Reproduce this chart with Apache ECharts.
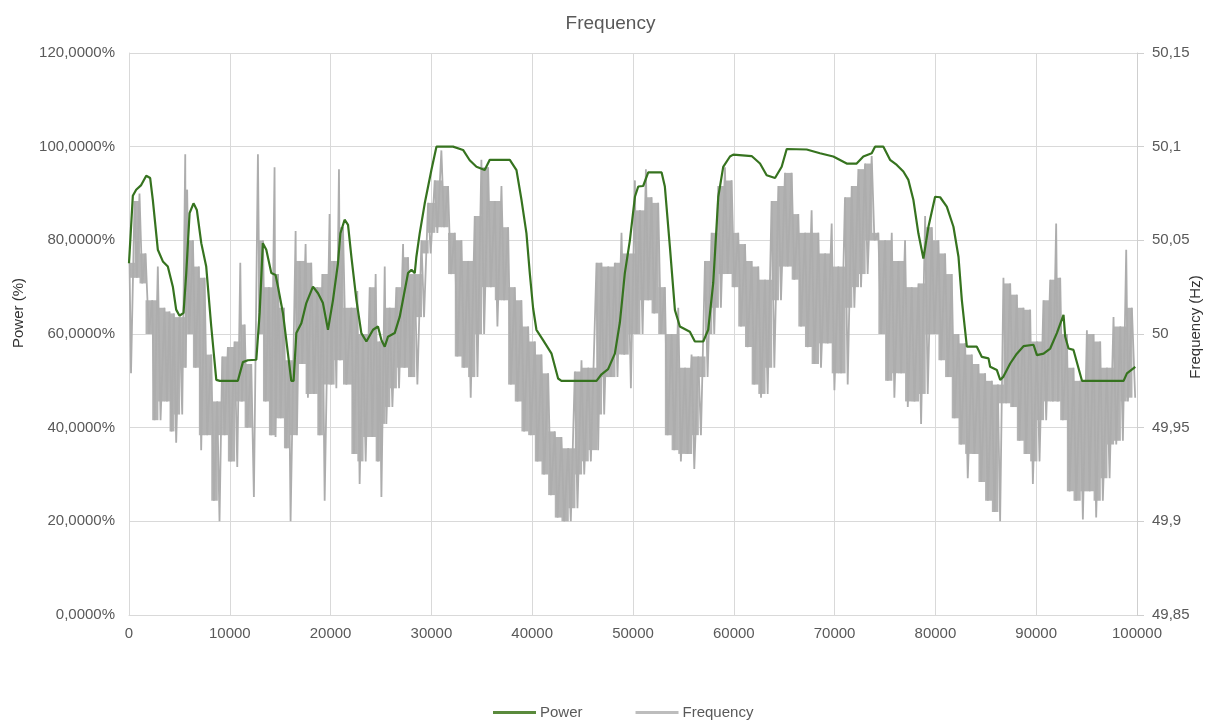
<!DOCTYPE html>
<html>
<head>
<meta charset="utf-8">
<title>Frequency</title>
<script src="https://cdn.jsdelivr.net/npm/echarts@6/dist/echarts.min.js"></script>
<style>
  html, body { margin: 0; padding: 0; background: #ffffff; }
  #chart { width: 1221px; height: 725px; }
</style>
</head>
<body>
<div id="chart"></div>
<script>
// Sample position (s) for the power trace and its level in percent
const powerX = [0, 380, 710, 1210, 1710, 2100, 2360, 2860, 3360, 3850, 4350, 4680, 5010, 5410, 5680, 6010, 6400, 6730, 7170, 7660,
  8160, 8660, 9000, 10800, 11300, 11790, 12630, 12960, 13280, 13620, 14120, 14540, 14780, 15270, 15770, 16100, 16330, 16600, 17100, 17590,
  18250, 18750, 19240, 19740, 20240, 20730, 20970, 21390, 21730, 22060, 22560, 23050, 23550, 24210, 24700, 25040, 25370, 25690, 26360, 26860,
  27180, 27680, 28020, 28350, 28510, 28840, 29340, 30000, 30500, 32150, 33140, 33800, 34470, 35290, 35790, 37780, 38440, 38940, 39430, 39760,
  40090, 40420, 41080, 41920, 42570, 42900, 46380, 46880, 47530, 48200, 48700, 49190, 49690, 50190, 50520, 51010, 51510, 52840, 53160, 53660,
  54160, 54650, 55640, 56140, 56970, 57460, 57960, 58460, 58950, 59620, 59950, 61770, 62600, 63260, 64090, 64750, 65250, 67230, 68550, 69870,
  71200, 72190, 72850, 73680, 74010, 74840, 75500, 76170, 76820, 77320, 77820, 78310, 78810, 79310, 79970, 80470, 81130, 81790, 82290, 82620,
  83120, 84110, 84610, 85270, 85430, 86100, 86430, 86750, 87420, 88080, 88740, 89730, 90070, 90730, 91390, 92050, 92710, 92880, 93210, 93700,
  94540, 98670, 99000, 99830];
const powerPct = [75.1, 89.5, 90.8, 91.8, 93.8, 93.3, 88.7, 78, 75.5, 74.4, 70.1, 65.2, 63.9, 64.5, 73, 85.8, 87.9, 86.5, 79.4, 74.4,
  61.6, 50.2, 50, 50, 54, 54.4, 54.5, 64.5, 79.4, 78, 73, 72.6, 70.1, 64.5, 55.8, 50, 50, 60.2, 62.3, 66.6,
  70.1, 68.7, 66.6, 60.9, 67.3, 75.1, 81.5, 84.4, 83.3, 76.5, 67.3, 60.2, 58.4, 60.9, 61.6, 58.7, 57.3, 59.4, 60.2, 63.7,
  67.3, 73, 73.7, 73, 76.5, 81.5, 87.9, 95, 100, 100, 99.3, 97.1, 95.7, 95, 97.2, 97.2, 95, 88.6, 81.5, 73,
  65.5, 60.9, 58.7, 55.8, 50.5, 50, 50, 51.4, 52.5, 55.8, 62.5, 73, 80, 89.3, 91.5, 91.6, 94.5, 94.5, 91.5, 78.6,
  65.1, 61.6, 60.5, 58.4, 58.4, 60.9, 70.9, 89.3, 95.7, 97.9, 98.3, 98, 96.4, 93.9, 93.3, 95.7, 99.5, 99.4, 98.6, 97.9,
  96.4, 96.4, 97.9, 98.6, 100, 100, 97.2, 96.1, 94.7, 92.9, 88.6, 81.5, 76.1, 82.9, 89.3, 89.2, 87.2, 82.9, 76.5, 67.3,
  57.3, 57.3, 55.1, 54.8, 53, 52.3, 50.2, 50.9, 53.7, 55.8, 57.4, 57.7, 55.5, 55.8, 56.9, 60.2, 64.1, 59.4, 56.9, 56.6,
  50, 50, 51.6, 53];

// Sample position (s) for the grid frequency trace and its value in Hz
// (alternating local high / local low of the fast oscillation)
const freqX = [50, 200, 550, 780, 1040, 1310, 1640, 1970, 2300, 2530, 2860, 3130, 3520, 3760, 4020, 4220, 4450, 4680, 5010, 5280,
  5580, 5640, 5770, 5970, 6340, 6600, 6930, 7160, 7500, 7760, 8160, 8420, 8750, 8980, 9250, 9480, 9810, 10080, 10470, 10740,
  11040, 11200, 11470, 11730, 12130, 12390, 12790, 12960, 13290, 13550, 13880, 14110, 14440, 14540, 14780, 15040, 15370, 15600, 15870, 16030,
  16530, 16660, 16930, 17190, 17520, 17750, 18080, 18350, 18680, 18910, 19180, 19410, 19900, 20070, 20340, 20570, 20830, 20960, 21230, 21560,
  22060, 22320, 22650, 22880, 23210, 23480, 23880, 24140, 24470, 24700,
  24870, 25040, 25370, 25530, 25860, 26130, 26520, 26790, 27190, 27350, 27680, 27950, 28340, 28610, 29010, 29270, 29670, 29930, 30330, 30590,
  30990, 31260, 31650, 31920, 32320, 32580, 32980, 33240, 33640, 33900, 34300, 34570, 34960, 35230, 35630, 35890, 36290, 36550, 36950, 37210,
  37610, 37880, 38270, 38540, 38930, 39200, 39600, 39860, 40260, 40520, 40920, 41180, 41580, 41850, 42240, 42510, 42900, 43170, 43570, 43830,
  44230, 44490, 44890, 45160, 45550, 45820, 46380, 46540, 46870, 47140, 47540, 47800, 48200, 48460,
  48860, 49130, 49520, 49790, 50190, 50350, 50680, 50950, 51280, 51510, 51840, 52110, 52500, 52770, 53160, 53430, 53830, 54090, 54490, 54750,
  55150, 55420, 55810, 56080, 56470, 56740, 57140, 57400, 57800, 58060, 58460, 58720, 59120, 59390, 59780, 60050, 60440, 60710, 61110, 61370,
  61770, 62030, 62430, 62700, 63090, 63360, 63750, 64020, 64420, 64680, 65080, 65340, 65740, 66000, 66400, 66670, 67060, 67330, 67720, 67990,
  68390, 68650, 69050, 69310, 69710, 69980, 70370, 70640, 71030, 71300, 71700, 71960, 72360, 72620, 73020, 73280,
  73680, 73950, 74340, 74610, 75010, 75270, 75670, 75930, 76330, 76600, 76990, 77260, 77650, 77920, 78320, 78580, 78980, 79240, 79640, 79900,
  80300, 80570, 80960, 81230, 81620, 81890, 82290, 82550, 82950, 83210, 83610, 83870, 84270, 84540, 84930, 85200, 85600, 85860, 86190, 86420,
  86750, 87020, 87420, 87680, 88080, 88340, 88740, 89000, 89400, 89670, 90060, 90330, 90720, 90990, 91390, 91650, 91980, 92150, 92380, 92640,
  93040, 93310, 93700, 93970, 94360, 94630, 95030, 95290, 95690, 95950, 96350, 96610, 97010, 97280, 97670, 97940, 98340, 98600, 98930, 99100,
  99490, 99820];
const freqHz = [50.038, 49.979, 50.071, 50.030, 50.075, 50.027, 50.043, 50.000, 50.018, 49.954, 50.036, 49.954, 50.014, 49.964, 50.012, 49.948, 50.011, 49.942, 50.009, 49.957,
  50.096, 49.982, 50.077, 50.000, 50.050, 49.982, 50.036, 49.938, 50.030, 49.946, 49.989, 49.911, 49.964, 49.900, 49.988, 49.946, 49.993, 49.932, 49.996, 49.929,
  50.038, 49.964, 50.005, 49.950, 49.984, 49.913, 50.096, 50.000, 50.050, 49.964, 50.025, 49.946, 50.089, 49.945, 50.032, 49.955, 50.014, 49.939, 49.986, 49.900,
  50.055, 49.946, 50.039, 49.984, 50.048, 49.966, 50.038, 49.968, 50.025, 49.946, 50.032, 49.911, 50.064, 49.973, 50.039, 49.971, 50.088, 49.986, 50.057, 49.973,
  50.014, 49.936, 50.023, 49.920, 50.000, 49.932, 50.025, 49.945, 50.032, 49.932,
  49.996, 49.913, 50.036, 49.952, 50.014, 49.961, 50.025, 49.971, 50.048, 49.982, 50.041, 49.977, 50.032, 49.973, 50.050, 50.009, 50.070, 50.043, 50.082, 50.054,
  50.098, 50.057, 50.079, 50.032, 50.054, 49.988, 50.050, 49.982, 50.039, 49.966, 50.063, 49.977, 50.093, 50.000, 50.089, 50.025, 50.071, 50.004, 50.079, 50.018,
  50.057, 49.973, 50.025, 49.964, 50.018, 49.948, 50.004, 49.946, 49.996, 49.932, 49.989, 49.925, 49.979, 49.914, 49.948, 49.902, 49.945, 49.900, 49.939, 49.900,
  49.980, 49.907, 49.986, 49.925, 49.982, 49.932, 50.038, 49.938, 50.038, 49.957, 50.036, 49.977, 50.038, 49.977,
  50.054, 49.989, 50.043, 49.971, 50.082, 50.000, 50.066, 50.000, 50.088, 50.018, 50.073, 50.011, 50.070, 50.000, 50.025, 49.946, 50.000, 49.938, 50.014, 49.932,
  49.982, 49.936, 49.989, 49.928, 49.988, 49.946, 50.039, 49.977, 50.054, 50.000, 50.079, 50.014, 50.089, 50.032, 50.082, 50.025, 50.054, 50.004, 50.048, 49.993,
  50.039, 49.973, 50.036, 49.966, 50.029, 49.968, 50.071, 49.982, 50.079, 50.018, 50.086, 50.036, 50.086, 50.029, 50.064, 50.004, 50.054, 49.993, 50.066, 49.984,
  50.054, 49.982, 50.043, 49.995, 50.059, 49.970, 50.036, 49.979, 50.073, 49.973, 50.079, 50.014, 50.088, 50.025, 50.091, 50.032,
  50.095, 50.050, 50.054, 50.000, 50.050, 49.975, 50.054, 49.966, 50.039, 49.979, 50.050, 49.961, 50.025, 49.964, 50.027, 49.952, 50.063, 49.968, 50.057, 50.000,
  50.050, 49.986, 50.043, 49.977, 50.032, 49.955, 50.000, 49.941, 49.995, 49.923, 49.989, 49.936, 49.984, 49.921, 49.979, 49.911, 49.975, 49.905, 49.973, 49.900,
  50.030, 49.963, 50.027, 49.961, 50.021, 49.943, 50.014, 49.936, 50.013, 49.920, 49.996, 49.932, 50.018, 49.954, 50.029, 49.964, 50.059, 49.964, 50.030, 49.954,
  50.000, 49.916, 49.982, 49.911, 49.975, 49.901, 50.002, 49.916, 50.000, 49.902, 49.996, 49.911, 49.982, 49.923, 50.009, 49.941, 50.004, 49.943, 50.045, 49.964,
  50.014, 49.966];

// Axis ranges
const xTicks = { min: 0, max: 100000, interval: 10000 };
const powerTicks = { min: 0, max: 120, interval: 20 };
const freqTicks = { min: 49.85, max: 50.15, interval: 0.05 };

const textColor = '#595959';
const gridColor = '#d9d9d9';
const freqColor = '#adadad';
const font = "'Liberation Sans', Arial, sans-serif";

const powerData = powerX.map((x, i) => [x, powerPct[i]]);
const freqData = freqX.map((x, i) => [x, freqHz[i]]);

// Dense core of the oscillation: between neighbouring high/low pairs, the range
// covered by both pairs is filled so the fast swings read as a solid band.
const freqCore = [];
for (let i = 0; i + 3 < freqHz.length; i += 2) {
  freqCore.push([
    freqX[i], freqX[i + 2],
    Math.min(freqHz[i], freqHz[i + 2]),
    Math.max(freqHz[i + 1], freqHz[i + 3])
  ]);
}

const chart = echarts.init(document.getElementById('chart'), null, { renderer: 'canvas' });

chart.setOption({
  animation: false,
  backgroundColor: '#ffffff',
  textStyle: { fontFamily: font },
  title: {
    text: 'Frequency',
    left: 'center',
    top: 9,
    textStyle: { fontFamily: font, fontSize: 19, fontWeight: 'normal', color: textColor }
  },
  legend: {
    bottom: 5,
    left: 493,
    padding: 0,
    icon: 'rect',
    itemWidth: 43,
    itemHeight: 3,
    itemGap: 53,
    textStyle: { fontFamily: font, fontSize: 15, color: textColor, padding: [0, 0, 0, -1] },
    data: [
      { name: 'Power', itemStyle: { color: '#5a8a3c' } },
      { name: 'Frequency', itemStyle: { color: '#bdbdbd' } }
    ]
  },
  // Axis titles placed as rotated text beside the value axes
  graphic: [
    {
      type: 'text',
      x: 19, y: 313, rotation: Math.PI / 2,
      style: { text: 'Power (%)', fill: '#333333', font: "15px 'Liberation Sans', Arial, sans-serif", align: 'center', verticalAlign: 'middle' }
    },
    {
      type: 'text',
      x: 1196, y: 327, rotation: Math.PI / 2,
      style: { text: 'Frequency (Hz)', fill: '#333333', font: "15px 'Liberation Sans', Arial, sans-serif", align: 'center', verticalAlign: 'middle' }
    }
  ],
  grid: { left: 129, right: 84, top: 53, bottom: 110 },
  xAxis: {
    type: 'value',
    min: xTicks.min,
    max: xTicks.max,
    interval: xTicks.interval,
    axisLine: { show: true, lineStyle: { color: gridColor } },
    axisTick: { show: false },
    axisLabel: { color: textColor, fontSize: 15, fontFamily: font, margin: 11, formatter: v => String(v) },
    splitLine: { show: true, lineStyle: { color: gridColor } }
  },
  yAxis: [
    {
      type: 'value',
      min: powerTicks.min,
      max: powerTicks.max,
      interval: powerTicks.interval,
      axisLine: { show: true, lineStyle: { color: gridColor } },
      axisTick: { show: false },
      axisLabel: {
        color: textColor, fontSize: 15, fontFamily: font, margin: 14,
        formatter: v => v + ',0000%'
      },
      splitLine: { show: true, lineStyle: { color: gridColor } }
    },
    {
      type: 'value',
      position: 'right',
      min: freqTicks.min,
      max: freqTicks.max,
      interval: freqTicks.interval,
      axisLine: { show: true, lineStyle: { color: '#cfcfcf' } },
      axisTick: { show: true, length: 7, lineStyle: { color: '#cfcfcf' } },
      axisLabel: {
        color: textColor, fontSize: 15, fontFamily: font, margin: 15,
        formatter: v => String(+v.toFixed(2)).replace('.', ',')
      },
      splitLine: { show: false }
    }
  ],
  series: [
    {
      name: 'Frequency',
      type: 'custom',
      yAxisIndex: 1,
      data: freqCore,
      encode: { x: [0, 1], y: [2, 3] },
      z: 1,
      silent: true,
      itemStyle: { color: '#bdbdbd' },
      renderItem: (params, api) => {
        const a = api.coord([api.value(0), api.value(2)]);
        const b = api.coord([api.value(1), api.value(3)]);
        if (b[1] <= a[1]) return null;
        return {
          type: 'rect',
          shape: { x: a[0], y: a[1], width: b[0] - a[0] + 0.6, height: b[1] - a[1] },
          style: { fill: '#b3b3b3' }
        };
      }
    },
    {
      name: 'Frequency',
      type: 'line',
      yAxisIndex: 1,
      data: freqData,
      symbol: 'none',
      z: 2,
      lineStyle: { color: freqColor, width: 1.8, join: 'bevel' },
      itemStyle: { color: '#bdbdbd' }
    },
    {
      name: 'Power',
      type: 'line',
      yAxisIndex: 0,
      data: powerData,
      symbol: 'none',
      z: 3,
      lineStyle: { color: '#36731f', width: 2.2 },
      itemStyle: { color: '#5a8a3c' }
    }
  ]
});
</script>
</body>
</html>
